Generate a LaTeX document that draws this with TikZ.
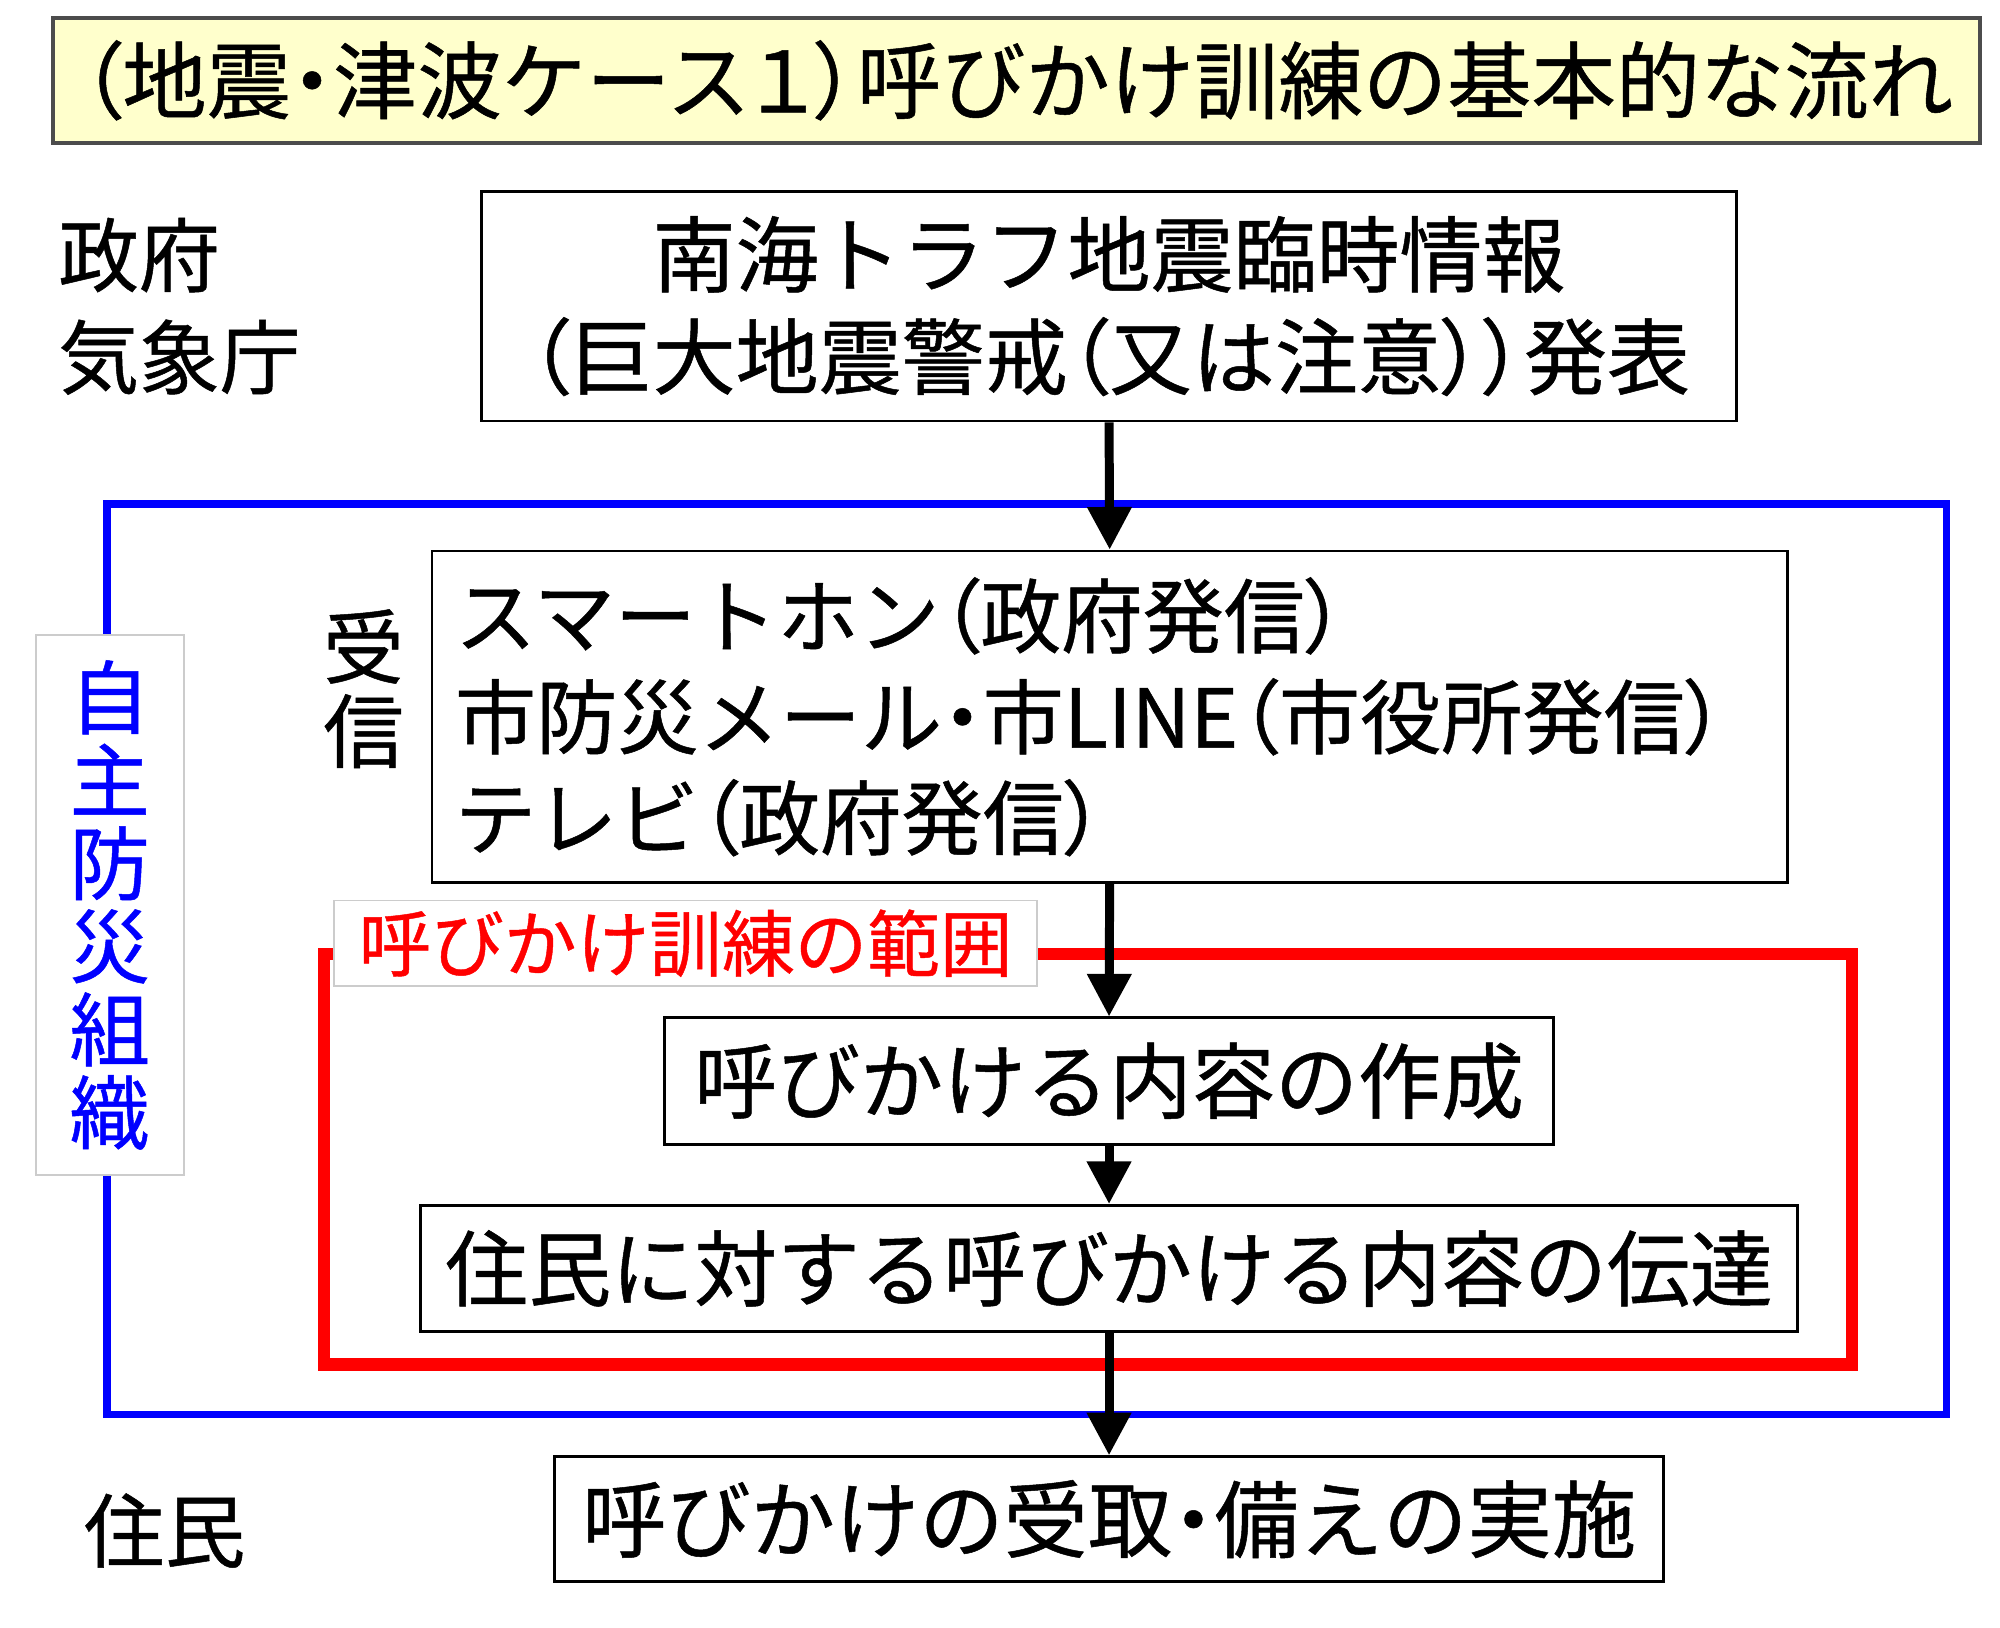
\documentclass[tikz,border=0pt]{standalone}
\usepackage{fontspec}
\newfontfamily\jp[FakeBold=0.6]{Noto Sans CJK JP}
\newfontfamily\jpp[FakeBold=0.6,RawFeature=+palt]{Noto Sans CJK JP}
\newcommand\LP{{\jpp （}}
\newcommand\RP{{\jpp ）}}
\newcommand\DT{{\jpp ・}}
\newcommand\ONE{{\jpp １}}
\usetikzlibrary{arrows.meta}
\definecolor{titlefill}{HTML}{FFFFCC}
\begin{document}
\begin{tikzpicture}[x=0.01cm,y=-0.01cm,
  box/.style={draw=black,line width=0.6pt,fill=white,inner sep=0pt},
  bigtxt/.style={font=\jp\fontsize{18.5pt}{22pt}\selectfont},
  side/.style={font=\jp\fontsize{18pt}{22pt}\selectfont,anchor=west,inner sep=0pt},
  flow/.style={line width=2pt,-{Triangle[length=9.5pt,width=9.5pt]}},
  tag/.style={draw=black!20,line width=0.4pt,fill=white,inner sep=0pt}]
\useasboundingbox (0,0) rectangle (1568,1276);

% title
\node[draw=black!70,line width=0.8pt,fill=titlefill,minimum width=15.10cm,minimum height=0.98cm,inner sep=0pt,
  font=\jp\fontsize{18.8pt}{20pt}\selectfont] (title) at (797,63)
  {\LP 地震\DT 津波ケース\ONE\RP 呼びかけ訓練の基本的な流れ};

% left labels
\node[side] (gov) at (45,200) {政府};
\node[side] (jma) at (45,280) {気象庁};
\node[side] (res) at (65,1200) {住民};

% frames
\draw[blue,line width=1.7pt] (84,395) rectangle (1526,1109);
\draw[red,line width=2.85pt] (254,748) rectangle (1452,1070);

\node[tag,minimum width=1.16cm,minimum height=4.23cm,text=blue,align=center,
  font=\jp\fontsize{17.9pt}{18.5pt}\selectfont] (org) at (86,709.5) {自\\主\\防\\災\\組\\織};
\node[tag,minimum width=5.51cm,minimum height=0.67cm,text=red,
  font=\jp\fontsize{16.2pt}{20pt}\selectfont] (range) at (537.5,739.5) {呼びかけ訓練の範囲};

% receive label
\node[inner sep=0pt,align=center,font=\jp\fontsize{18pt}{18.8pt}\selectfont] (recv) at (285,540) {受\\信};

% boxes
\node[box,minimum width=9.83cm,minimum height=1.80cm,align=center,
  font=\jp\fontsize{18.5pt}{22.8pt}\selectfont] (b1) at (869.5,240)
  {南海トラフ地震臨時情報\\\LP 巨大地震警戒\LP 又は注意\RP\RP 発表};
\node[box,minimum width=10.62cm,minimum height=2.60cm,text width=10.26cm,inner xsep=0.18cm,align=left,
  font=\jp\fontsize{18.1pt}{22.5pt}\selectfont] (b2) at (870,562)
  {スマートホン\LP 政府発信\RP\\市防災メール\DT 市LINE\LP 市役所発信\RP\\テレビ\LP 政府発信\RP};
\node[box,bigtxt,minimum width=6.97cm,minimum height=0.99cm] (b3) at (869.5,847.5) {呼びかける内容の作成};
\node[box,bigtxt,minimum width=10.79cm,minimum height=0.99cm] (b4) at (869.5,994.5) {住民に対する呼びかける内容の伝達};
\node[box,minimum width=8.69cm,minimum height=0.98cm,font=\jp\fontsize{18.8pt}{22pt}\selectfont] (b5) at (869.5,1191)
  {呼びかけの受取\DT 備えの実施};

% arrows
\draw[flow] (b1.south) -- (b2.north);
\draw[flow] (b2.south) -- (b3.north);
\draw[flow] (b3.south) -- (b4.north);
\draw[flow] (b4.south) -- (b5.north);
\end{tikzpicture}
\end{document}
